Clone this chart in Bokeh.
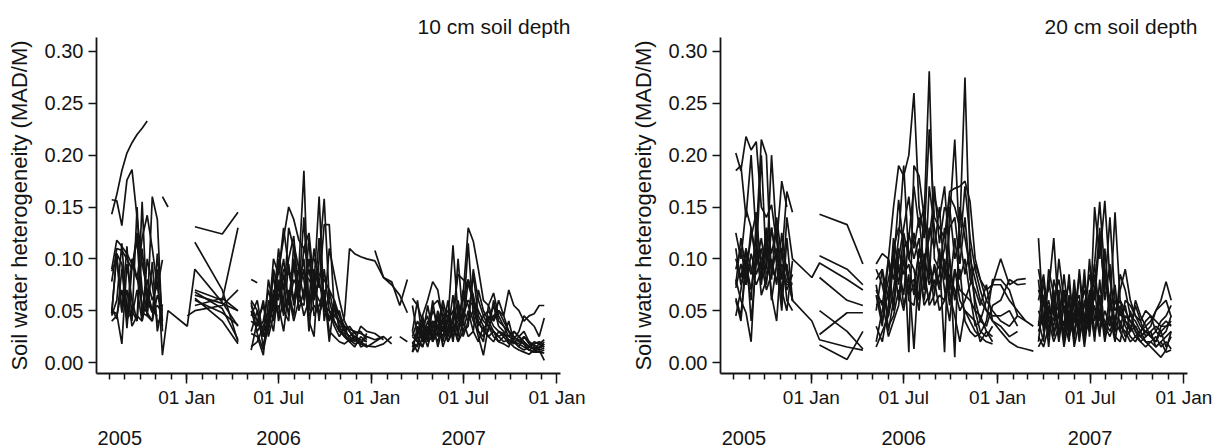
from datetime import datetime
from bokeh.plotting import figure
from bokeh.layouts import row
from bokeh.models import (Range1d, FixedTicker, DatetimeTickFormatter, DatetimeAxis,
                          NumeralTickFormatter)
from bokeh.embed import file_html
from bokeh.resources import INLINE

_ = None  # missing measurement

# ---------------- sampling dates (one list per measurement campaign) ----------------
dates_2005 = ["2005-08-06", "2005-08-16", "2005-08-26", "2005-09-05", "2005-09-15", "2005-09-25",
              "2005-10-05", "2005-10-15", "2005-10-25", "2005-11-04", "2005-11-14", "2005-11-25"]
dates_winter06 = ["2006-01-02", "2006-01-17", "2006-03-12", "2006-04-12"]
dates_2006 = ["2006-05-08", "2006-05-20", "2006-06-01", "2006-06-11", "2006-06-21", "2006-07-01",
              "2006-07-11", "2006-07-21", "2006-07-31", "2006-08-10", "2006-08-20", "2006-08-30",
              "2006-09-09", "2006-09-19", "2006-09-29", "2006-10-09", "2006-10-19", "2006-10-29",
              "2006-11-08", "2006-11-18", "2006-11-28", "2006-12-10", "2006-12-22"]
dates_winter07 = ["2007-01-07", "2007-01-24", "2007-02-09", "2007-02-25", "2007-03-12"]
dates_2007 = ["2007-03-22", "2007-04-01", "2007-04-11", "2007-04-21", "2007-05-01", "2007-05-11",
              "2007-05-21", "2007-05-31", "2007-06-10", "2007-06-20", "2007-06-30", "2007-07-10",
              "2007-07-20", "2007-07-30", "2007-08-09", "2007-08-19", "2007-08-29", "2007-09-08",
              "2007-09-18", "2007-09-28", "2007-10-08", "2007-10-18", "2007-10-28", "2007-11-07",
              "2007-11-17", "2007-11-27", "2007-12-07"]

# ---------------- 10 cm depth: MAD/M x 1000, one row per probe ----------------
d10_2005 = [
    [143, 162, 185, 202, 212, 220, 226, 233, _, _, _, _],
    [157, 156, 132, 176, 186, 140, 95, 70, 50, 45, _, _],
    [90, 118, 112, 105, 95, 80, 120, 142, 110, 72, 99, _],
    [78, 110, 108, 100, 90, 125, 70, 48, 160, 138, 30, _],
    [50, 47, 18, 95, 60, 40, 155, 45, 40, 105, 40, _],
    [48, 105, 95, 33, 92, 118, 48, 45, 97, 30, 56, _],
    [40, 45, 70, 42, 50, 40, 110, 60, 48, 90, 7, 50],
    [88, 100, 50, 70, 35, 45, 40, 65, 50, 55, 48, _],
    [45, 60, 115, 45, 100, 82, 55, 48, 40, 65, 50, _],
    [52, 42, 90, 55, 45, 70, 40, 100, 75, 38, 45, _],
    [47, 105, 48, 112, 40, 150, 45, 80, 60, 75, 35, _],
    [_, _, _, _, _, _, _, _, _, _, 160, 150],
]
d10_winter06 = [
    [_, 131, 124, 145], [_, 116, 70, 20], [_, 70, 60, 130], [_, 65, 57, 50],
    [_, 60, 48, 36], [_, 55, 62, 50], [35, 90, 58, 35], [45, 50, 55, 70],
    [_, 68, 52, 22], [_, 62, 40, 18], [_, _, _, _], [_, _, _, _],
]
d10_2006 = [
    [80, 77, _, 45, 62, 88, 120, 150, 138, 118, 110, 95, 100, 85, 80, 70, 60, 45, 35, 30, 25, 22, 20],
    [60, 50, 30, 40, 100, 85, 130, 90, 60, 90, 185, 40, 25, 100, 158, 60, 40, 30, 28, 20, 25, 18, 15],
    [58, 28, 12, 35, 55, 110, 70, 100, 122, 60, 110, 125, 75, 160, 50, 110, 85, 60, 40, 30, 22, 18, 28],
    [55, 40, 25, 35, 70, 60, 90, 85, 88, 88, 86, 80, 70, 60, 55, 50, 45, 40, 35, 32, 30, 28, 25],
    [30, 50, 15, 45, 85, 40, 60, 130, 110, 70, 140, 50, 90, 72, 133, 133, 50, 40, 30, 35, 28, 30, 22],
    [28, 25, 7, 60, 40, 100, 50, 40, 115, 90, 60, 120, 45, 55, 70, 20, 60, 30, 25, 20, 15, 25, 20],
    [15, 20, 35, 50, 30, 75, 45, 95, 55, 75, 100, 30, 85, 40, 90, 50, 35, 25, 35, 22, 18, 20, 16],
    [12, 40, 55, 30, 60, 45, 85, 60, 100, 50, 70, 90, 60, 120, 40, 70, 45, 50, 30, 25, 30, 15, 18],
    [50, 30, 40, 70, 50, 55, 30, 70, 45, 95, 80, 45, 55, 48, 60, 40, 55, 45, 30, 25, 20, 35, 30],
    [40, 35, 60, 25, 45, 80, 50, 65, 40, 60, 55, 100, 65, 80, 50, 45, 40, 30, 45, 110, 105, 102, 100],
    [_, _, 42, 35, 90, 70, 100, 55, 80, 70, 45, 60, 110, 75, 65, 40, 55, 35, 25, 20, 22, 17, _],
    [45, 60, 25, 80, 55, 65, 75, 45, 95, 65, 90, 55, 75, 45, 65, 30, 25, 20, 18, 22, 25, 20, 25],
]
d10_winter07 = [
    [_, _, _, _, _], [20, 25, 18, _, _], [_, _, _, _, _], [22, 25, _, _, _],
    [_, _, _, _, _], [_, _, _, _, _], [15, 18, 25, _, _], [_, _, _, _, _],
    [28, 22, _, 25, 20], [98, 82, 75, 65, 48], [108, 82, 78, 55, 80], [_, _, _, _, _],
]
d10_2007 = [
    [25, 20, 30, 22, 40, 35, 60, 40, 113, 45, 60, 80, 60, 50, 40, 35, 30, 25, 28, 22, 20, 18, 15, 12, 15, 12, 14],
    [62, 55, 40, 20, 55, 60, 45, 50, 30, 40, 65, 130, 117, 90, 60, 55, 40, 50, 45, 30, 25, 20, 18, 12, 10, 10, 12],
    [55, 25, 45, 60, 78, 70, 40, 25, 45, 85, 80, 75, 60, 30, 20, 55, 67, 45, 35, 25, 30, 25, 20, 15, 18, 20, 17],
    [30, 60, 20, 30, 50, 40, 30, 35, 30, 100, 40, 115, 45, 25, 7, 35, 45, 50, 40, 30, 25, 20, 25, 18, 12, 15, 20],
    [20, 15, 35, 45, 20, 30, 55, 25, 40, 60, 35, 80, 65, 40, 30, 25, 20, 30, 25, 40, 20, 15, 12, 15, 20, 18, 15],
    [15, 30, 45, 25, 60, 25, 45, 20, 35, 20, 30, 50, 30, 70, 50, 40, 30, 25, 20, 22, 18, 25, 30, 20, 15, 12, 2],
    [10, 35, 20, 40, 25, 50, 30, 60, 25, 35, 50, 40, 85, 45, 35, 30, 60, 40, 35, 30, 20, 22, 18, 12, 10, 14, 16],
    [25, 40, 30, 15, 35, 45, 20, 40, 50, 30, 45, 60, 55, 35, 45, 50, 40, 60, 45, 70, 55, 50, 40, 45, 47, 55, 55],
    [20, 10, 25, 55, 30, 20, 40, 30, 65, 25, 70, 55, 40, 30, 25, 45, 35, 30, 28, 25, 22, 30, 45, 40, 35, 25, 43],
    [30, 20, 15, 30, 40, 15, 35, 20, 30, 45, 30, 35, 90, 60, 45, 35, 25, 20, 18, 15, 30, 25, 20, 15, 13, 18, 22],
    [10, 18, 40, 20, 25, 35, 25, 45, 20, 55, 25, 40, 50, 40, 30, 40, 55, 35, 30, 20, 15, 12, 10, 8, 12, 10, 9],
    [18, 25, 15, 35, 20, 45, 15, 30, 40, 20, 40, 25, 30, 20, 35, 25, 30, 20, 25, 18, 20, 15, 25, 20, 17, 14, 18],
]

# ---------------- 20 cm depth: MAD/M x 1000, one row per probe ----------------
d20_2005 = [
    [202, 185, 218, 205, 213, 150, 140, 152, 115, 175, 150, _],
    [185, 190, 140, 200, 120, 215, 200, 80, 140, 100, 165, 145],
    [125, 100, 148, 130, 100, 200, 90, 200, 120, 60, 140, 100],
    [110, 75, 90, 120, 145, 85, 130, 105, 130, 80, 95, 60],
    [80, 60, 48, 20, 110, 75, 120, 65, 40, 110, 60, 50],
    [75, 120, 90, 60, 135, 95, 70, 85, 110, 70, 50, 98],
    [62, 45, 100, 85, 120, 65, 80, 100, 75, 125, 85, 60],
    [45, 70, 110, 40, 95, 110, 75, 130, 95, 50, 120, 60],
    [72, 95, 75, 105, 85, 100, 110, 90, 80, 95, 78, 75],
    [100, 82, 110, 90, 75, 88, 95, 130, 100, 85, 75, 77],
    [90, 110, 80, 130, 95, 120, 85, 95, 105, 110, 90, 60],
    [60, 40, 95, 70, 105, 80, 130, 60, 95, 90, 70, 85],
]
d20_winter06 = [
    [_, 143, 133, 95], [_, 103, 90, 75], [82, 96, 80, 70], [_, 82, 60, 55],
    [_, 50, 30, 13], [_, 27, 48, 48], [_, 17, 3, 30], [40, 22, 15, 12],
    [_, _, _, _], [_, _, _, _], [_, _, _, _], [_, _, _, _],
]
d20_2006 = [
    [95, 105, 100, 150, 190, 180, 200, 260, 150, 120, 225, 140, 130, 120, 165, 168, 170, 175, 155, 100, 80, 60, 50],
    [80, 90, 60, 110, 130, 120, 10, 190, 180, 140, 281, 100, 90, 110, 160, 150, 130, 275, 100, 80, 60, 50, 45],
    [75, 40, 70, 95, 157, 110, 120, 170, 130, 150, 80, 170, 115, 150, 140, 215, 110, 170, 120, 90, 70, 50, 40],
    [65, 35, 100, 80, 120, 190, 100, 125, 95, 100, 120, 160, 140, 170, 100, 5, 150, 120, 90, 60, 40, 35, 55],
    [50, 90, 30, 60, 100, 130, 160, 110, 140, 90, 130, 110, 150, 80, 130, 140, 95, 140, 80, 70, 55, 75, 40],
    [35, 20, 55, 120, 90, 65, 125, 100, 120, 70, 170, 130, 100, 10, 150, 100, 120, 85, 110, 50, 30, 25, 35],
    [20, 50, 80, 105, 75, 125, 100, 90, 60, 150, 100, 70, 85, 130, 70, 120, 80, 100, 65, 35, 40, 60, 75],
    [15, 30, 45, 70, 110, 85, 95, 65, 110, 80, 60, 95, 75, 95, 55, 90, 60, 50, 45, 40, 20, 30, 25],
    [90, 75, 45, 100, 60, 110, 60, 55, 90, 60, 100, 55, 65, 60, 85, 70, 50, 60, 75, 95, 80, 70, 75],
    [70, 55, 100, 50, 95, 55, 75, 80, 50, 105, 75, 90, 70, 100, 65, 45, 20, 50, 40, 30, 25, 20, 18],
    [_, _, 35, 45, 70, 50, 85, 13, 95, 55, 65, 80, 50, 60, 100, 60, 90, 40, 30, 25, 28, 40, 80],
    [55, 60, 25, 40, 55, 100, 65, 75, 105, 90, 55, 65, 110, 70, 40, 90, 70, 65, 60, 50, 45, 30, 20],
]
d20_winter07 = [
    [40, 35, 45, _, _], [45, 50, 35, _, _], [30, 20, 15, 13, 11], [60, 80, 75, 76, _],
    [35, 25, 30, _, _], [_, _, _, _, _], [75, 60, 50, 40, 35], [_, _, _, _, _],
    [100, 75, 80, 81, _], [_, _, _, _, _], [80, 70, 45, 40, _], [_, _, _, _, _],
]
d20_2007 = [
    [120, 40, 30, 60, 80, 50, 30, 60, 45, 70, 50, 95, 155, 85, 60, 40, 70, 90, 60, 45, 35, 30, 25, 30, 40, 45, 55],
    [90, 60, 70, 120, 45, 30, 60, 20, 90, 40, 30, 150, 100, 156, 80, 50, 60, 40, 35, 25, 30, 20, 20, 15, 20, 25, 30],
    [80, 30, 50, 40, 100, 60, 75, 40, 35, 55, 85, 60, 120, 70, 140, 60, 45, 55, 30, 35, 25, 30, 35, 50, 60, 78, 60],
    [60, 85, 40, 20, 35, 85, 40, 55, 65, 20, 60, 95, 40, 110, 50, 145, 60, 50, 40, 30, 25, 20, 15, 10, 5, 12, 30],
    [40, 20, 90, 65, 30, 40, 20, 80, 30, 90, 25, 70, 130, 60, 95, 30, 85, 70, 45, 40, 30, 35, 25, 20, 35, 40, 35],
    [35, 80, 25, 80, 60, 25, 50, 30, 50, 30, 100, 40, 60, 20, 50, 75, 30, 60, 55, 45, 40, 25, 30, 35, 30, 15, 25],
    [30, 45, 60, 30, 45, 70, 35, 65, 20, 60, 40, 70, 30, 50, 35, 60, 50, 35, 25, 20, 30, 40, 45, 30, 25, 30, 45],
    [25, 15, 35, 55, 20, 55, 25, 40, 60, 25, 70, 30, 50, 40, 30, 45, 40, 25, 30, 55, 40, 50, 45, 40, 35, 35, 40],
    [70, 55, 45, 35, 70, 20, 65, 15, 40, 80, 35, 55, 25, 90, 40, 30, 35, 30, 20, 25, 20, 15, 20, 25, 15, 20, 13],
    [50, 35, 80, 45, 55, 15, 45, 70, 25, 45, 65, 20, 80, 30, 65, 25, 20, 45, 40, 35, 25, 30, 25, 20, 30, 35, 37],
    [20, 65, 15, 70, 25, 65, 30, 45, 85, 35, 45, 85, 45, 35, 25, 40, 30, 20, 50, 30, 20, 25, 30, 15, 20, 10, 12],
    [15, 25, 55, 25, 50, 35, 85, 25, 55, 15, 55, 25, 65, 25, 45, 20, 55, 40, 30, 60, 45, 35, 40, 50, 55, 60, 44],
]

# ---------------- axes / labels ----------------
panel_titles = ["10 cm soil depth", "20 cm soil depth"]
y_label = "Soil water heterogeneity (MAD/M)"
y_ticks = [0.00, 0.05, 0.10, 0.15, 0.20, 0.25, 0.30]
x_major_dates = ["2006-01-01", "2006-07-01", "2007-01-01", "2007-07-01", "2008-01-01"]
year_label_dates = ["2005-08-22", "2006-07-01", "2007-07-01"]
x_start, x_end = "2005-07-07", "2008-01-08"
y_start, y_end = -0.0106, 0.3135


def ms(s):
    return (datetime.strptime(s, "%Y-%m-%d") - datetime(1970, 1, 1)).total_seconds() * 1000.0


def minor_month_ticks():
    out = []
    y, m = 2005, 8
    while (y, m) <= (2007, 12):
        out.append((datetime(y, m, 1) - datetime(1970, 1, 1)).total_seconds() * 1000.0)
        m += 1
        if m == 13:
            y, m = y + 1, 1
    return out


def segments(blocks, date_blocks, break_after):
    xs_out, ys_out = [], []
    nser = len(blocks[0])
    for i in range(nser):
        xs, ys = [], []
        for b, (blk, dts) in enumerate(zip(blocks, date_blocks)):
            vals = blk[i] if i < len(blk) else []
            for k, d in enumerate(dts):
                v = vals[k] if k < len(vals) else None
                xs.append(ms(d))
                ys.append(v)
            if b in break_after:
                xs.append(None)
                ys.append(None)
        sx, sy = [], []
        for x, v in zip(xs, ys):
            if v is None:
                if len(sx) >= 2:
                    xs_out.append(sx)
                    ys_out.append(sy)
                sx, sy = [], []
            else:
                sx.append(x)
                sy.append(v / 1000.0)
        if len(sx) >= 2:
            xs_out.append(sx)
            ys_out.append(sy)
    return xs_out, ys_out


FONT = "Liberation Sans"
INK = "#141414"
ALL_FMT = dict(microseconds="%d %b", milliseconds="%d %b", seconds="%d %b", minsec="%d %b",
               minutes="%d %b", hourmin="%d %b", hours="%d %b", days="%d %b", months="%d %b",
               years="%d %b")
YEAR_FMT = {k: "%Y" for k in ALL_FMT}


def make_panel(title, blocks, left, frame_w):
    p = figure(width=615, height=448, x_axis_type="datetime",
               x_range=Range1d(ms(x_start), ms(x_end)), y_range=Range1d(y_start, y_end),
               output_backend="svg", toolbar_location=None,
               min_border_left=left, min_border_right=615 - left - frame_w,
               min_border_top=37, min_border_bottom=75)
    p.outline_line_color = None
    p.xgrid.visible = False
    p.ygrid.visible = False

    xs, ys = segments(blocks, [dates_2005, dates_winter06, dates_2006, dates_winter07, dates_2007],
                      break_after={1, 3})
    p.multi_line(xs, ys, line_color=INK, line_width=1.7)

    # title
    p.title.text = title
    p.title.align = "right"
    p.title.offset = -10
    p.title.standoff = 0
    p.title.text_font = FONT
    p.title.text_font_size = "21px"
    p.title.text_font_style = "normal"
    p.title.text_color = INK

    # y axis
    ya = p.yaxis[0]
    ya.ticker = FixedTicker(ticks=y_ticks)
    ya.formatter = NumeralTickFormatter(format="0.00")
    ya.axis_label = y_label
    ya.axis_label_text_font = FONT
    ya.axis_label_text_font_size = "22px"
    ya.axis_label_text_font_style = "normal"
    ya.axis_label_text_color = INK
    ya.axis_label_standoff = 10
    ya.major_label_text_font = FONT
    ya.major_label_text_font_size = "20px"
    ya.major_label_text_color = INK
    ya.major_label_standoff = 5
    ya.major_tick_in = 0
    ya.major_tick_out = 8
    ya.minor_tick_out = 0
    ya.minor_tick_in = 0
    ya.axis_line_width = 1.8
    ya.axis_line_color = INK
    ya.major_tick_line_width = 1.5
    ya.major_tick_line_color = INK

    # date axis
    xa = p.xaxis[0]
    xa.ticker = FixedTicker(ticks=[ms(d) for d in x_major_dates], minor_ticks=minor_month_ticks())
    xa.formatter = DatetimeTickFormatter(strip_leading_zeros=False, **ALL_FMT)
    xa.major_label_text_font = FONT
    xa.major_label_text_font_size = "19px"
    xa.major_label_text_color = INK
    xa.major_label_standoff = 3
    xa.major_tick_in = 0
    xa.major_tick_out = 10
    xa.minor_tick_in = 0
    xa.minor_tick_out = 6
    xa.axis_line_width = 1.8
    xa.axis_line_color = INK
    xa.major_tick_line_width = 1.5
    xa.minor_tick_line_width = 1.5
    xa.major_tick_line_color = INK
    xa.minor_tick_line_color = INK

    # year labels
    yr = DatetimeAxis(ticker=FixedTicker(ticks=[ms(d) for d in year_label_dates]),
                      formatter=DatetimeTickFormatter(strip_leading_zeros=False, **YEAR_FMT),
                      axis_line_color=None, major_tick_line_color=None, minor_tick_line_color=None,
                      major_label_standoff=14, major_label_text_font=FONT,
                      major_label_text_font_size="20px", major_label_text_color=INK)
    p.add_layout(yr, "below")
    return p


p1 = make_panel(panel_titles[0], [d10_2005, d10_winter06, d10_2006, d10_winter07, d10_2007], 96, 464)
p2 = make_panel(panel_titles[1], [d20_2005, d20_winter06, d20_2006, d20_winter07, d20_2007], 105, 467)

layout = row(p1, p2)
open("out.html", "w").write(file_html(layout, INLINE))
